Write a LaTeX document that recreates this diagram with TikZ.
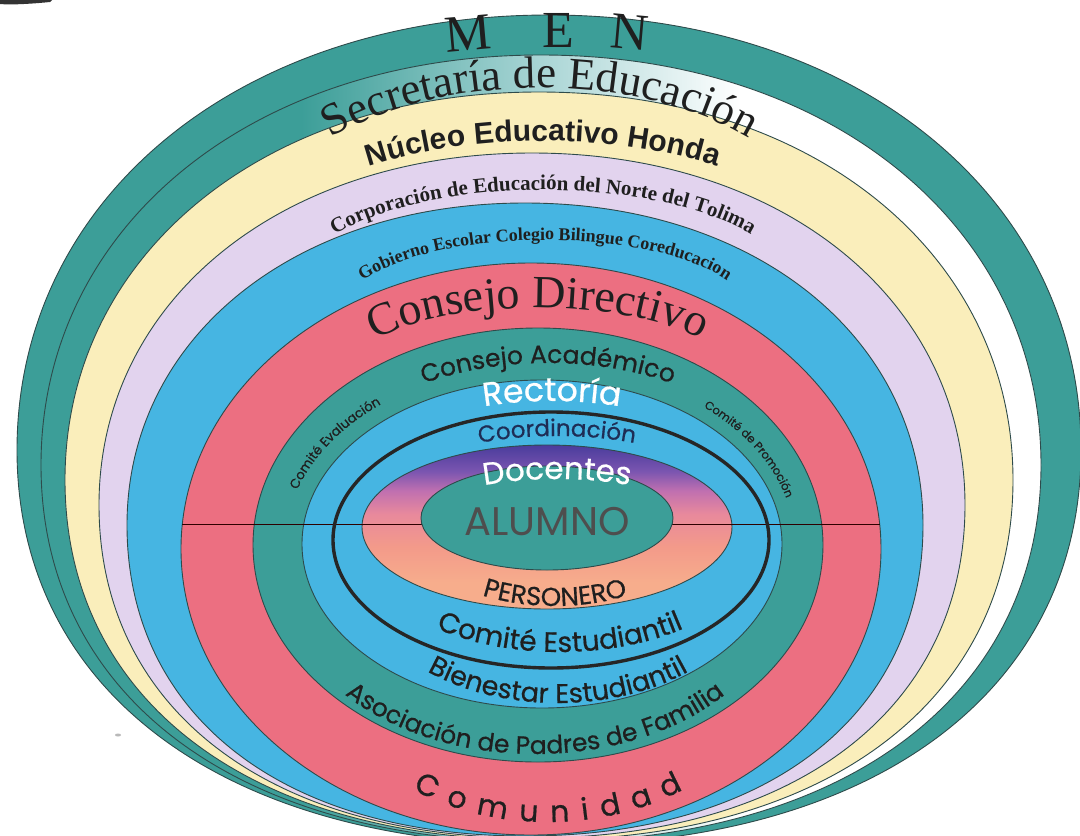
\documentclass[tikz,border=0pt]{standalone}
\usepackage{fontspec}
\usetikzlibrary{decorations.text}
\newfontfamily\fSerif{Liberation Serif}
\newfontfamily\fSans{Liberation Sans}
\newfontfamily\fComic[FakeBold=0.6]{Poppins}
\newfontfamily\fThin{Poppins}
\definecolor{cTeal}{HTML}{3C9E98}
\definecolor{cSecMid}{HTML}{A9D5D5}
\definecolor{cYellow}{HTML}{FAEEBB}
\definecolor{cLilac}{HTML}{E2D3EE}
\definecolor{cBlue}{HTML}{46B5E2}
\definecolor{cPink}{HTML}{EC6F81}
\definecolor{cLine}{HTML}{2E4B4B}
\definecolor{cInk}{HTML}{1F1F1F}
\definecolor{cNavy}{HTML}{1E2D55}
\definecolor{cAlu}{HTML}{4E4E4E}
\definecolor{dPurple}{HTML}{4A3C9C}
\definecolor{dViolet}{HTML}{7A55B0}
\definecolor{dMauve}{HTML}{C070B0}
\definecolor{dPink}{HTML}{E8899C}
\definecolor{dSalmon}{HTML}{F39A8A}
\definecolor{dPeach}{HTML}{F7AD8C}
\pgfdeclarehorizontalshading{secsh}{100bp}{color(0bp)=(cTeal); color(38bp)=(cTeal); color(50bp)=(cSecMid); color(60bp)=(white); color(100bp)=(white)}
\pgfdeclareverticalshading{docsh}{100bp}{color(0bp)=(dPeach); color(33bp)=(dPeach); color(44bp)=(dSalmon); color(54bp)=(dPink); color(61bp)=(dMauve); color(67bp)=(dViolet); color(75bp)=(dPurple); color(100bp)=(dPurple)}
% fuller oval: cx, cy (from top), a, top radius, bottom radius, k top, k bottom
\newcommand{\eggpath}[7]{({#1+#3},{-#2}) .. controls ({#1+#3},{-#2+#6*#4}) and ({#1+#6*#3},{-#2+#4}) .. ({#1},{-#2+#4})
 .. controls ({#1-#6*#3},{-#2+#4}) and ({#1-#3},{-#2+#6*#4}) .. ({#1-#3},{-#2})
 .. controls ({#1-#3},{-#2-#7*#5}) and ({#1-#7*#3},{-#2-#5}) .. ({#1},{-#2-#5})
 .. controls ({#1+#7*#3},{-#2-#5}) and ({#1+#3},{-#2-#7*#5}) .. cycle}
\tikzset{
  band/.style={draw=cLine, line width=0.9pt},
  letterM/.style={font=\fSerif\fontsize{52}{52}\selectfont, text=cInk, anchor=base, inner sep=0pt},
}
\begin{document}
\begin{tikzpicture}[x=1pt,y=1pt]
\useasboundingbox (0,-836) rectangle (1080,0);
\clip (0,-836) rectangle (1080,0);
\fill[white] (0,-836) rectangle (1080,0);
% scan artifacts
\fill[gray!40!black] (0,0) -- (52,0) -- (50,-2) .. controls (30,-4) and (10,-5) .. (0,-4) -- cycle;
\fill[gray!55] (118,-735) ellipse [x radius=3, y radius=1.5];
% outer bands
\filldraw[band, fill=cTeal] \eggpath{549}{450}{532}{435}{395}{0.58}{0.61};
\shadedraw[band, shading=secsh] \eggpath{541}{465}{500}{410}{377}{0.58}{0.61};
\filldraw[band, fill=cYellow] \eggpath{539}{480}{474}{388}{360}{0.58}{0.61};
\filldraw[band, fill=cLilac] \eggpath{532}{505}{433}{352}{333}{0.58}{0.61};
\filldraw[band, fill=cBlue] \eggpath{525}{525}{398}{322}{311}{0.58}{0.61};
% inner ellipses
\filldraw[band, fill=cPink] (531,-549) ellipse [x radius=350, y radius=286];
\filldraw[band, fill=cTeal] (538,-545) ellipse [x radius=285, y radius=217];
\filldraw[band, fill=cBlue] (542,-544) ellipse [x radius=240, y radius=164];
\shadedraw[band, shading=docsh] (547,-527) ellipse [x radius=185, y radius=82];
\draw[draw=black!70!red!60!black, line width=1pt] (182,-524) -- (880,-524);
\draw[draw=black!85, line width=3.4pt] (551,-540) ellipse [x radius=218, y radius=128];
\filldraw[band, fill=cTeal] (547,-518) ellipse [x radius=126, y radius=52];
% M E N
\node[letterM, rotate=5] (nm) at (470,-50) {M};
\node[letterM] (ne) at (558,-47) {E};
\node[letterM, rotate=-5] (nn) at (628,-49) {N};
% top texts
\path[decorate, decoration={text along path, text align=center, text color=cInk,
  text={|\fSerif\fontsize{45}{45}\selectfont|Secretaría de Educación}}]
  ([shift={(175:280 and 150)}]540,-238) arc[start angle=175, end angle=5, x radius=280, y radius=150];
\path[decorate, decoration={text along path, text align=center, text color=cInk,
  text={|\fSans\bfseries\fontsize{30}{30}\selectfont|Núcleo Educativo Honda}}]
  ([shift={(170:295 and 132)}]543,-273) arc[start angle=170, end angle=10, x radius=295, y radius=132];
\path[decorate, decoration={text along path, text align=center, text color=cInk,
  text={|\fSerif\bfseries\fontsize{21}{21}\selectfont|Corporación de Educación del Norte del Tolima}}]
  ([shift={(175:250 and 100)}]543,-290) arc[start angle=175, end angle=5, x radius=250, y radius=100];
\path[decorate, decoration={text along path, text align=center, text color=cInk,
  text={|\fSerif\bfseries\fontsize{18}{18}\selectfont|Gobierno Escolar Colegio Bilingue Coreducacion}}]
  ([shift={(178:205 and 75)}]545,-315) arc[start angle=178, end angle=2, x radius=205, y radius=75];
\path[decorate, decoration={text along path, text align=center, text color=cInk,
  text={|\fSerif\fontsize{46}{46}\selectfont|Consejo Directivo}}]
  ([shift={(178:195 and 70)}]538,-378) arc[start angle=178, end angle=2, x radius=195, y radius=70];
\path[decorate, decoration={text along path, text align=center, text color=cInk,
  text={|\fComic\fontsize{25}{25}\selectfont|Consejo Académico}}]
  ([shift={(170:230 and 130)}]548,-493) arc[start angle=170, end angle=10, x radius=230, y radius=130];
\path[decorate, decoration={text along path, text align=center, text color=white,
  text={|\fComic\fontsize{33}{33}\selectfont|Rectoría}}]
  ([shift={(170:220 and 110)}]552,-511) arc[start angle=170, end angle=10, x radius=220, y radius=110];
\path[decorate, decoration={text along path, text align=center, text color=cNavy,
  text={|\fComic\fontsize{23}{23}\selectfont|Coordinación}}]
  ([shift={(170:220 and 110)}]557,-546) arc[start angle=170, end angle=10, x radius=220, y radius=110];
\path[decorate, decoration={text along path, text align=center, text color=white,
  text={|\fComic\fontsize{31}{31}\selectfont|Docentes}}]
  ([shift={(170:220 and 110)}]557,-589) arc[start angle=170, end angle=10, x radius=220, y radius=110];
% centre
\node[font=\fThin\fontsize{40}{40}\selectfont, text=cAlu] (alu) at (547,-522) {ALUMNO};
% bottom texts
\path[decorate, decoration={text along path, text align=center, text color=cInk,
  text={|\fComic\fontsize{26}{26}\selectfont|PERSONERO}}]
  ([shift={(190:150 and 85)}]555,-521) arc[start angle=190, end angle=350, x radius=150, y radius=85];
\path[decorate, decoration={text along path, text align=center, text color=cInk,
  text={|\fComic\fontsize{28}{28}\selectfont|Comité Estudiantil}}]
  ([shift={(190:200 and 110)}]560,-542) arc[start angle=190, end angle=350, x radius=200, y radius=110];
\path[decorate, decoration={text along path, text align=center, text color=cInk,
  text={|\fComic\fontsize{27}{27}\selectfont|Bienestar Estudiantil}}]
  ([shift={(190:200 and 130)}]558,-573) arc[start angle=190, end angle=350, x radius=200, y radius=130];
\path[decorate, decoration={text along path, text align=center, text color=cInk,
  text={|\fComic\fontsize{25}{25}\selectfont|Asociación de Padres de Familia}}]
  ([shift={(185:250 and 170)}]535,-584) arc[start angle=185, end angle=355, x radius=250, y radius=170];
\path[decorate, decoration={text along path, text align={fit to path}, text color=cInk,
  text={|\fComic\fontsize{30}{30}\selectfont|Comunidad}}]
  ([shift={(234:230 and 170)}]548,-652) arc[start angle=234, end angle=306, x radius=230, y radius=170];
% side texts
\path[decorate, decoration={text along path, text align=center, text color=cInk,
  text={|\fComic\fontsize{13}{13}\selectfont|Comité Evaluación}}]
  ([shift={(177:255 and 180)}]540,-545) arc[start angle=177, end angle=117, x radius=255, y radius=180];
\path[decorate, decoration={text along path, text align=center, text color=cInk,
  text={|\fComic\fontsize{11.5}{11.5}\selectfont|Comité de Promoción}}]
  ([shift={(61:255 and 180)}]540,-545) arc[start angle=61, end angle=1, x radius=255, y radius=180];
\end{tikzpicture}
\end{document}
